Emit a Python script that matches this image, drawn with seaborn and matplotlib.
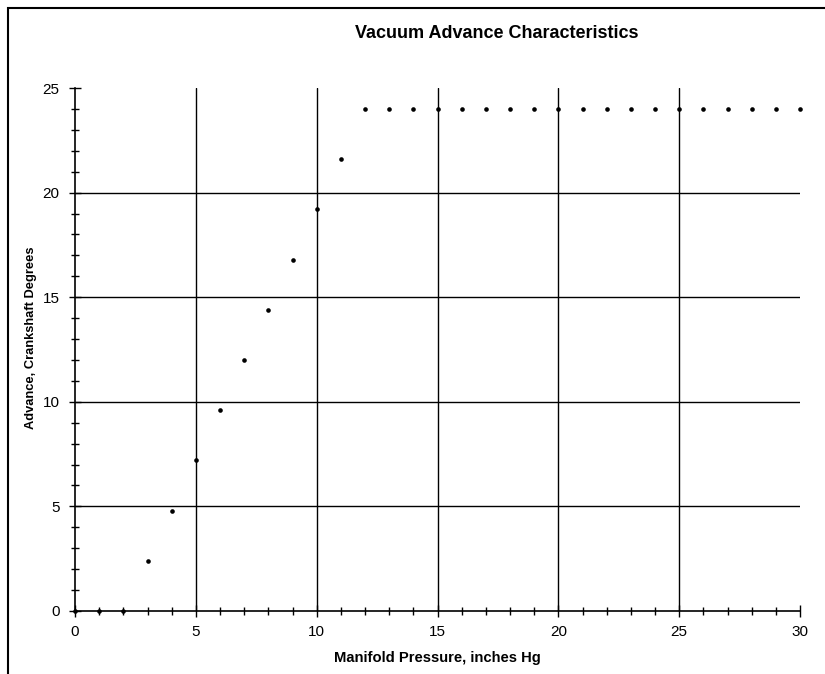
import matplotlib
matplotlib.use("Agg")
import matplotlib.pyplot as plt
import seaborn as sns
import pandas as pd
from matplotlib.ticker import MultipleLocator
from matplotlib.patches import Rectangle

pressure = list(range(0, 31))
advance = [0, 0, 0, 2.4, 4.8, 7.2, 9.6, 12.0, 14.4, 16.8, 19.2, 21.6] + [24.0] * 19
x_ticks = [0, 5, 10, 15, 20, 25, 30]
y_ticks = [0, 5, 10, 15, 20, 25]

df = pd.DataFrame({"Manifold Pressure": pressure, "Advance": advance})

sns.set_theme(style="white", rc={'text.color': 'black', 'axes.labelcolor': 'black',
                                 'xtick.color': 'black', 'ytick.color': 'black'})
plt.rcParams['font.family'] = ['Liberation Sans', 'DejaVu Sans']

fig = plt.figure(figsize=(8.25, 6.74), dpi=100)
ax = fig.add_axes([75/825, 1 - 611/674, 725/825, 523/674])

for xv in x_ticks[1:-1]:
    ax.axvline(xv, color='black', lw=1.0, zorder=1)
for yv in y_ticks[1:-1]:
    ax.axhline(yv, color='black', lw=1.0, zorder=1)

sns.scatterplot(data=df, x="Manifold Pressure", y="Advance", ax=ax,
                color='black', s=11, marker='o', edgecolor='black', linewidth=0,
                zorder=3, clip_on=False, legend=False)

ax.set_xlim(0, 30)
ax.set_ylim(0, 25)
ax.set_xticks(x_ticks)
ax.set_yticks(y_ticks)
ax.xaxis.set_minor_locator(MultipleLocator(1))
ax.yaxis.set_minor_locator(MultipleLocator(1))
ax.tick_params(which='major', direction='inout', length=8, width=1, color='black',
               labelsize=11, labelcolor='black', pad=6,
               bottom=True, left=True)
ax.tick_params(axis='y', which='major', pad=7)
ax.tick_params(which='minor', direction='inout', length=6, width=1, color='black',
               bottom=True, left=True)
for side in ['top', 'right']:
    ax.spines[side].set_visible(False)
for side in ['left', 'bottom']:
    ax.spines[side].set_color('black')
    ax.spines[side].set_linewidth(1.2)

ax.set_xlabel("Manifold Pressure, inches Hg", fontsize=10.6, fontweight='bold',
              color='black', va='center')
ax.set_ylabel("Advance, Crankshaft Degrees", fontsize=9.3, fontweight='bold',
              color='black', va='center')
ax.xaxis.set_label_coords(0.5, (611 - 658) / 523)
ax.yaxis.set_label_coords((31 - 75) / 725, (611 - 338) / 523)
fig.text(497/825, 1 - 33/674, "Vacuum Advance Characteristics", ha='center', va='center',
         fontsize=13, fontweight='bold', color='black')

fig.patches.append(Rectangle((8/825, -0.01), 1.02, 1 - 8/674 + 0.01, transform=fig.transFigure,
                             fill=False, edgecolor='black', lw=1.5))

fig.savefig("out.png", dpi=100)
